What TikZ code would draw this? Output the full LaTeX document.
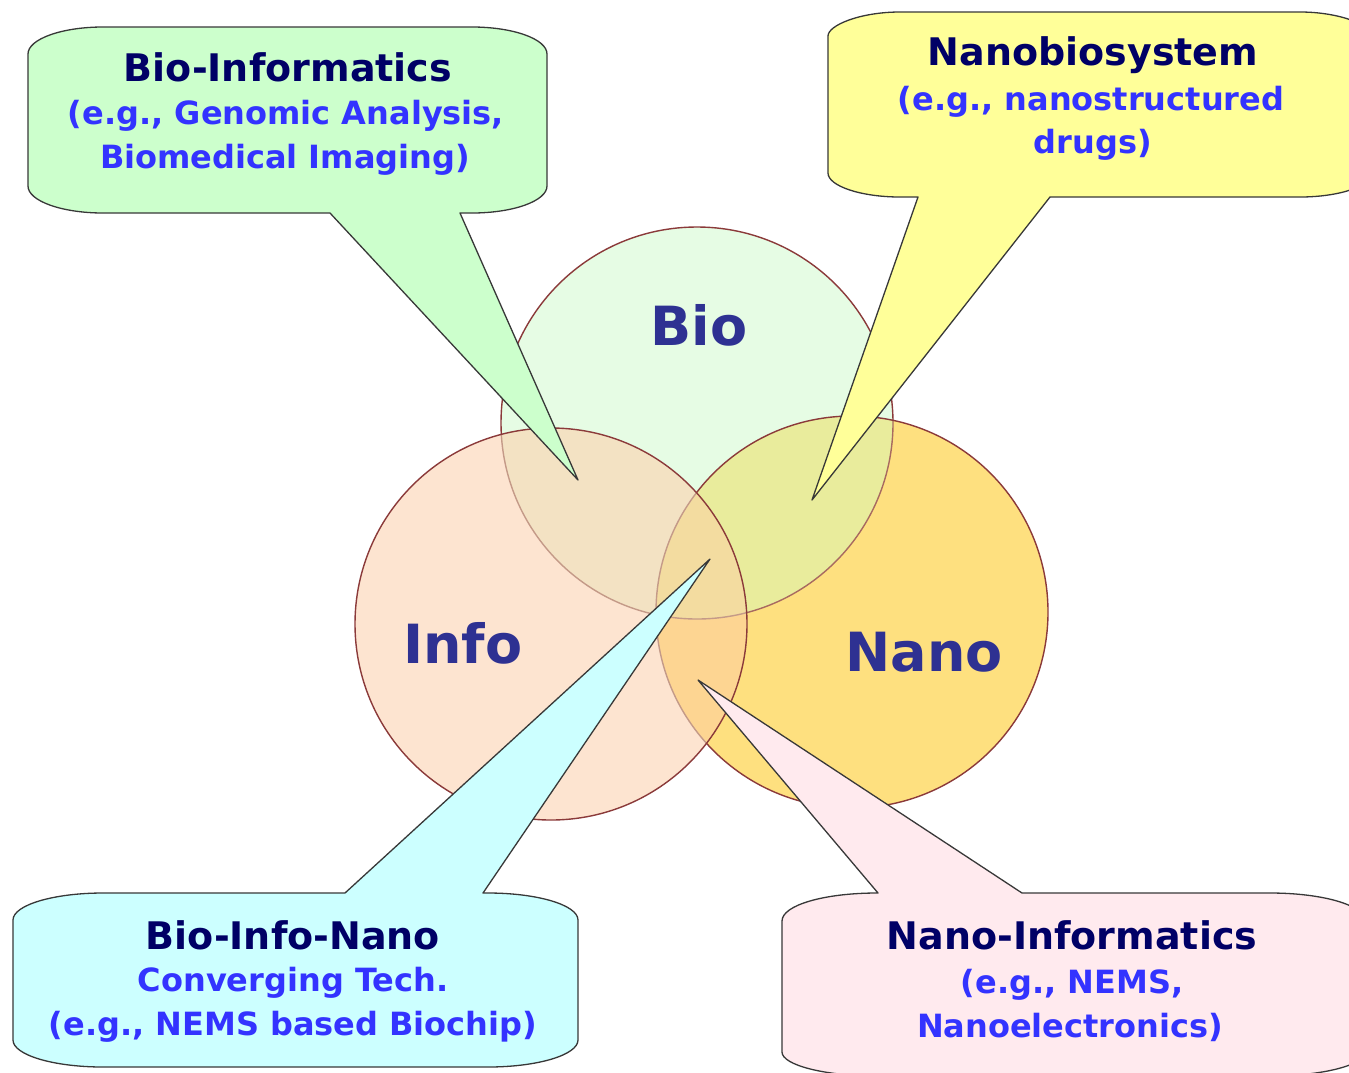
\documentclass[tikz,border=0pt]{standalone}
\usepackage{fontspec}
\setmainfont{DejaVu Sans}
\definecolor{bioF}{HTML}{E6FCE4}
\definecolor{infoF}{HTML}{FDE4D0}
\definecolor{nanoF}{HTML}{FEE07F}
\definecolor{biF}{HTML}{F3E2C3}
\definecolor{bnF}{HTML}{E9EC9C}
\definecolor{inF}{HTML}{FDD592}
\definecolor{bniF}{HTML}{F3DCA0}
\definecolor{ringc}{HTML}{8B3A3A}
\definecolor{ringmid}{HTML}{A86A60}
\definecolor{ringfaint}{HTML}{C49A88}
\definecolor{titlec}{HTML}{000066}
\definecolor{subc}{HTML}{3333FF}
\definecolor{bigc}{HTML}{2E3192}
\definecolor{calloutline}{HTML}{383838}
\definecolor{biC}{HTML}{CCFFCC}
\definecolor{nbC}{HTML}{FFFF99}
\definecolor{binC}{HTML}{CCFFFF}
\definecolor{niC}{HTML}{FFEAEE}
\tikzset{
  ttl/.style={font=\fontsize{38}{40}\selectfont\bfseries, text=titlec, anchor=base, inner sep=0pt},
  subl/.style={font=\fontsize{32}{34}\selectfont\bfseries, text=subc, anchor=base, inner sep=0pt},
  bigl/.style={font=\fontsize{54}{56}\selectfont\bfseries, text=bigc, anchor=base, inner sep=0pt},
  callout/.style={draw=calloutline, line width=1.3pt, line join=round},
  ring/.style={draw=ringc, line width=1.4pt},
}
\begin{document}
\begin{tikzpicture}[x=1pt,y=-1pt]
\useasboundingbox (0,0) rectangle (1349,1072);
\fill[white] (0,0) rectangle (1349,1072);
\def\R{196pt}
\coordinate (cB) at (697,423);
\coordinate (cI) at (551,624);
\coordinate (cN) at (852,612);
% Bio circle
\fill[bioF] (cB) circle[radius=\R];
\draw[ring] (cB) circle[radius=\R];
% Nano circle
\fill[nanoF] (cN) circle[radius=\R];
\begin{scope}
  \clip (cB) circle[radius=\R];
  \fill[bnF] (cN) circle[radius=\R];
\end{scope}
\begin{scope}
  \clip (cN) circle[radius=\R];
  \draw[ring, draw=ringmid] (cB) circle[radius=\R];
\end{scope}
\draw[ring] (cN) circle[radius=\R];
% Info circle
\fill[infoF] (cI) circle[radius=\R];
\begin{scope}
  \clip (cI) circle[radius=\R];
  \begin{scope}
    \clip (cB) circle[radius=\R];
    \fill[biF] (cB) circle[radius=\R];
  \end{scope}
  \begin{scope}
    \clip (cN) circle[radius=\R];
    \fill[inF] (cN) circle[radius=\R];
    \clip (cB) circle[radius=\R];
    \fill[bniF] (cB) circle[radius=\R];
  \end{scope}
  \draw[ring, draw=ringfaint] (cB) circle[radius=\R];
  \draw[ring, draw=ringfaint] (cN) circle[radius=\R];
\end{scope}
\draw[ring] (cI) circle[radius=\R];

% big labels
\node[bigl] (lbio) at (699,345) {Bio};
\node[bigl] (linfo) at (463,663) {Info};
\node[bigl] (lnano) at (924,671) {Nano};

% tips
\coordinate (tBI) at (578,480);
\coordinate (tNB) at (812,500);
\coordinate (tBIN) at (710,559);
\coordinate (tNI) at (698,680);

% Bio-Informatics callout
\filldraw[callout, fill=biC]
  (28,54) .. controls (28,39.1) and (61.6,27) .. (103,27) -- (472,27)
  .. controls (513.4,27) and (547,39.1) .. (547,54) -- (547,186)
  .. controls (547,200.9) and (513.4,213) .. (472,213) -- (460,213) -- (tBI) -- (330,213) -- (103,213)
  .. controls (61.6,213) and (28,200.9) .. (28,186) -- cycle;
% Nanobiosystem callout
\filldraw[callout, fill=nbC]
  (828,36) .. controls (828,25.2) and (860.3,12) .. (900,12) -- (1300,12)
  .. controls (1339.7,12) and (1372,25.2) .. (1372,36) -- (1372,173)
  .. controls (1372,185.8) and (1339.7,197) .. (1300,197) -- (1050,197) -- (tNB) -- (918,197) -- (900,197)
  .. controls (860.3,197) and (828,185.8) .. (828,173) -- cycle;
% Bio-Info-Nano callout
\filldraw[callout, fill=binC]
  (13,920) .. controls (13,905.1) and (53.3,893) .. (103,893) -- (345,893) -- (tBIN) -- (483,893) -- (488,893)
  .. controls (537.7,893) and (578,905.1) .. (578,920) -- (578,1040)
  .. controls (578,1054.9) and (537.7,1067) .. (488,1067) -- (103,1067)
  .. controls (53.3,1067) and (13,1054.9) .. (13,1040) -- cycle;
% Nano-Informatics callout
\filldraw[callout, fill=niC]
  (782,921) .. controls (782,905.1) and (824.4,893) .. (877,893) -- (878,893) -- (tNI) -- (1022,893) -- (1270,893)
  .. controls (1322.4,893) and (1365,905.1) .. (1365,921) -- (1365,1052)
  .. controls (1365,1065) and (1322.4,1076) .. (1270,1076) -- (877,1076)
  .. controls (824.4,1076) and (782,1065) .. (782,1052) -- cycle;

% texts
\node[ttl] (bi1) at (288,81) {Bio-Informatics};
\node[subl] (bi2) at (286,124) {(e.g., Genomic Analysis,};
\node[subl] (bi3) at (285,168) {Biomedical Imaging)};

\node[ttl] (nb1) at (1093,65) {Nanobiosystem};
\node[subl] (nb2) at (1091,110) {(e.g., nanostructured};
\node[subl] (nb3) at (1093,153) {drugs)};

\node[ttl] (bin1) at (293,949) {Bio-Info-Nano};
\node[subl] (bin2) at (293,991) {Converging Tech.};
\node[subl] (bin3) at (293,1035) {(e.g., NEMS based Biochip)};

\node[ttl] (ni1) at (1072,949) {Nano-Informatics};
\node[subl] (ni2) at (1072,993) {(e.g., NEMS,};
\node[subl] (ni3) at (1070,1037) {Nanoelectronics)};
\end{tikzpicture}
\end{document}
